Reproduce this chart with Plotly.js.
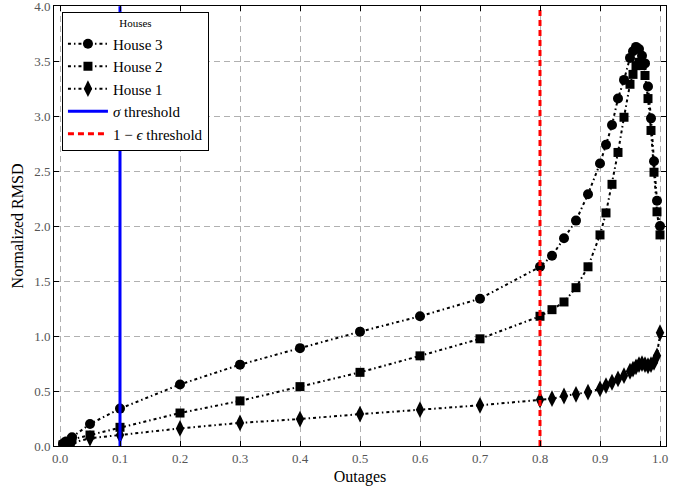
<!DOCTYPE html>
<html>
<head>
<meta charset="utf-8">
<script src="https://cdn.plot.ly/plotly-3.0.1.min.js"></script>
<style>html,body{margin:0;padding:0;background:#fff;}#chart{width:689px;height:487px;}</style>
</head>
<body>
<div id="chart"></div>
<script>
var outages = [0.005, 0.01, 0.02, 0.05, 0.1, 0.2, 0.3, 0.4, 0.5, 0.6, 0.7, 0.8, 0.82, 0.84, 0.86, 0.88, 0.9, 0.91, 0.92, 0.93, 0.94, 0.95, 0.955, 0.96, 0.965, 0.97, 0.975, 0.98, 0.985, 0.99, 0.995, 1.0];
var house3 = [0.02, 0.04, 0.08, 0.2, 0.34, 0.56, 0.74, 0.89, 1.04, 1.18, 1.34, 1.63, 1.73, 1.89, 2.05, 2.29, 2.57, 2.74, 2.92, 3.16, 3.33, 3.53, 3.59, 3.63, 3.61, 3.55, 3.48, 3.27, 2.98, 2.59, 2.23, 2.0];
var house2 = [0.01, 0.03, 0.06, 0.1, 0.17, 0.30, 0.41, 0.54, 0.67, 0.82, 0.975, 1.18, 1.24, 1.31, 1.44, 1.63, 1.92, 2.12, 2.38, 2.67, 2.99, 3.29, 3.38, 3.46, 3.49, 3.46, 3.37, 3.16, 2.87, 2.49, 2.13, 1.92];
var house1 = [0.005, 0.01, 0.03, 0.07, 0.1, 0.16, 0.21, 0.245, 0.29, 0.33, 0.37, 0.42, 0.43, 0.455, 0.47, 0.49, 0.52, 0.55, 0.58, 0.61, 0.64, 0.68, 0.70, 0.72, 0.74, 0.75, 0.74, 0.73, 0.74, 0.76, 0.82, 1.03];
var sigmaThreshold = 0.1;
var epsThreshold = 0.8;
var yLimits = [0, 4];
var xTicks = [0.0, 0.1, 0.2, 0.3, 0.4, 0.5, 0.6, 0.7, 0.8, 0.9, 1.0];
var yTicks = [0.0, 0.5, 1.0, 1.5, 2.0, 2.5, 3.0, 3.5, 4.0];

var FONT = "Liberation Serif, DejaVu Serif, serif";
var lineStyle = {color: '#000', width: 2, dash: '3px,3px,1.5px,3px'};

var traces = [
  {x: outages, y: house3, name: 'House 3', mode: 'lines+markers', line: lineStyle,
   marker: {symbol: 'circle', size: 10, color: '#000'}},
  {x: outages, y: house2, name: 'House 2', mode: 'lines+markers', line: lineStyle,
   marker: {symbol: 'square', size: 9, color: '#000'}},
  {x: outages, y: house1, name: 'House 1', mode: 'lines+markers', line: lineStyle,
   marker: {symbol: 'diamond-tall', size: 12, color: '#000'}},
  {x: [sigmaThreshold, sigmaThreshold], y: yLimits, name: '<i>σ</i> threshold', mode: 'lines',
   line: {color: '#0000ff', width: 3}},
  {x: [epsThreshold, epsThreshold], y: yLimits, name: '1 − <i>ϵ</i> threshold', mode: 'lines',
   line: {color: '#ff0000', width: 3, dash: '6px,4px'}}
];

var axisCommon = {
  showline: true, linecolor: '#000', linewidth: 1, mirror: 'ticks',
  ticks: 'inside', ticklen: 5, tickcolor: '#000', tickwidth: 1,
  showgrid: true, gridcolor: '#b0b0b0', gridwidth: 1, griddash: '6px,4px',
  zeroline: false, ticklabeloverflow: 'allow',
  tickfont: {family: FONT, size: 13, color: '#555'}
};

var layout = {
  width: 689, height: 487,
  margin: {l: 54, r: 23, t: 6, b: 41, pad: 0},
  paper_bgcolor: '#fff', plot_bgcolor: '#fff',
  font: {family: FONT, color: '#000'},
  showlegend: true,
  xaxis: Object.assign({}, axisCommon, {
    range: [-0.01, 1.01], tickvals: xTicks, ticktext: xTicks.map(function(v){return v.toFixed(1);}),
    title: {text: 'Outages', font: {family: FONT, size: 16, color: '#000'}, standoff: 6}
  }),
  yaxis: Object.assign({}, axisCommon, {
    range: [yLimits[0], yLimits[1] + 0.002], tickvals: yTicks, ticktext: yTicks.map(function(v){return v.toFixed(1);}),
    title: {text: 'Normalized RMSD', font: {family: FONT, size: 16, color: '#000'}, standoff: 6}
  }),
  legend: {
    x: 0.013, y: 0.986, xanchor: 'left', yanchor: 'top',
    bgcolor: '#fff', bordercolor: '#000', borderwidth: 1,
    font: {family: FONT, size: 15, color: '#000'},
    title: {text: 'Houses', side: 'top center', font: {family: FONT, size: 11, color: '#000'}},
    tracegroupgap: 0, itemwidth: 40
  }
};

Plotly.newPlot('chart', traces, layout, {displayModeBar: false, staticPlot: true});
</script>
</body>
</html>
